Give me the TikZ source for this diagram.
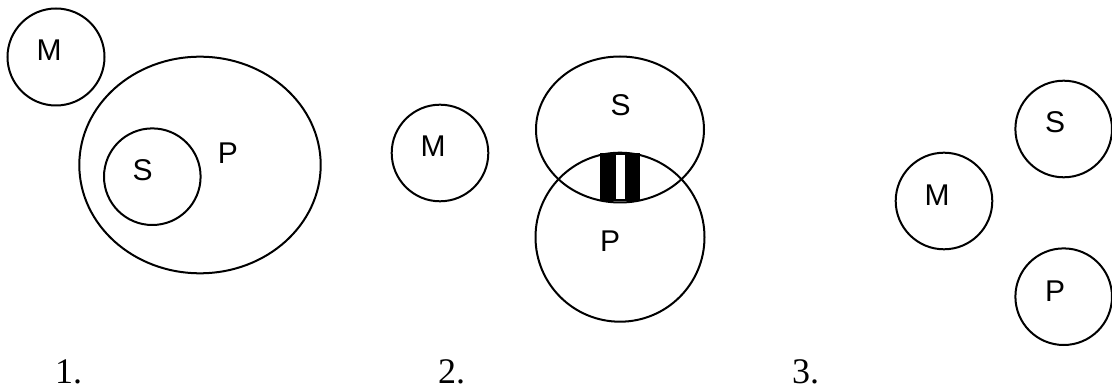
\documentclass[tikz,border=0pt]{standalone}
\usepackage{fontspec}
\setmainfont{Liberation Serif}
\newfontfamily\lettersf{Liberation Sans}
\begin{document}
\begin{tikzpicture}[x=1pt,y=-1pt,
  ring/.style={draw=black,line width=2pt},
  lbl/.style={font=\lettersf\fontsize{30}{30}\selectfont,anchor=base,inner sep=0pt},
  num/.style={font=\fontsize{36}{36}\selectfont,anchor=base west,inner sep=0pt}]
\useasboundingbox (0,0) rectangle (1112,387);
% Diagram 1
\draw[ring] (56,57) circle[radius=48.5];
\draw[ring] (200,165) ellipse[x radius=120.7,y radius=108.3];
\draw[ring] (152.3,176.7) circle[radius=48.3];
\node[lbl] (m1) at (49,61) {M};
\node[lbl] (s1) at (142.7,181) {S};
\node[lbl] (p1) at (228,164) {P};
% Diagram 2
\fill[black] (600,153.3) rectangle (640,201);
\fill[white] (616,155) rectangle (624.5,199.5);
\draw[ring] (440,153) circle[radius=48.3];
\draw[ring] (620,129.5) ellipse[x radius=84,y radius=73];
\draw[ring] (620,237.2) circle[radius=84.5];
\node[lbl] (m2) at (433,157) {M};
\node[lbl] (s2) at (620.7,116) {S};
\node[lbl] (p2) at (610,252) {P};
% Diagram 3
\draw[ring] (944,201) circle[radius=48.3];
\draw[ring] (1063.7,129) circle[radius=48.3];
\draw[ring] (1063.7,296.7) circle[radius=48.3];
\node[lbl] (m3) at (937,206) {M};
\node[lbl] (s3) at (1055,133) {S};
\node[lbl] (p3) at (1055,302) {P};
% Numbers
\node[num] (n1) at (55,384) {1.};
\node[num] (n2) at (438,384) {2.};
\node[num] (n3) at (792,384) {3.};
\end{tikzpicture}
\end{document}
